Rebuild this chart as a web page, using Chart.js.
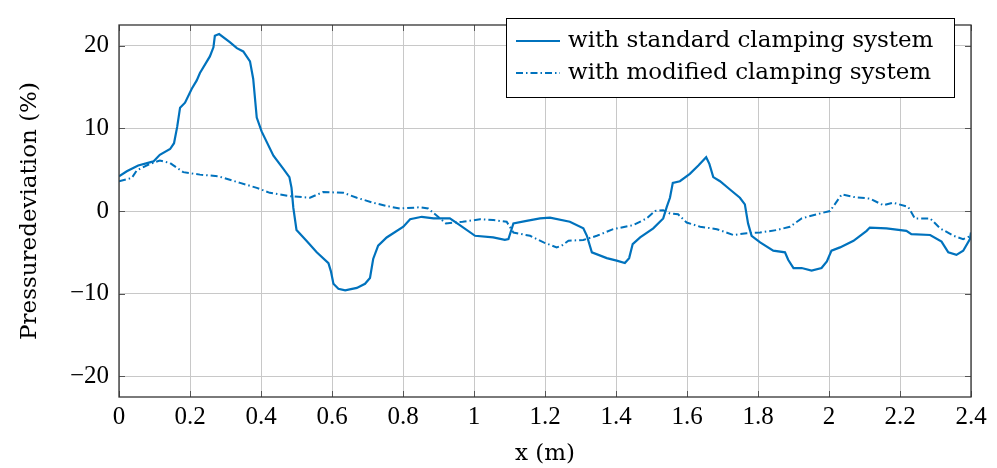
<!DOCTYPE html>
<html><head><meta charset="utf-8">
<script src="https://cdn.jsdelivr.net/npm/chart.js@4"></script>
<style>html,body{margin:0;padding:0;background:#fff}#wrap{width:997px;height:468px}</style>
</head><body><div id="wrap"><canvas id="c" width="997" height="468"></canvas></div>
<script>
const xStd=[0,0.022,0.054,0.097,0.115,0.144,0.155,0.164,0.172,0.186,0.205,0.219,0.228,0.256,0.266,0.270,0.282,0.313,0.332,0.350,0.369,0.378,0.388,0.402,0.435,0.463,0.480,0.486,0.491,0.500,0.528,0.557,0.590,0.597,0.604,0.618,0.637,0.670,0.693,0.707,0.716,0.730,0.754,0.801,0.820,0.853,0.886,0.932,0.960,1.003,1.054,1.087,1.097,1.111,1.148,1.186,1.214,1.270,1.308,1.318,1.332,1.374,1.402,1.425,1.437,1.447,1.468,1.505,1.533,1.543,1.552,1.560,1.580,1.608,1.632,1.654,1.663,1.674,1.693,1.721,1.749,1.763,1.772,1.782,1.806,1.843,1.876,1.885,1.900,1.923,1.951,1.979,1.994,2.007,2.031,2.069,2.106,2.115,2.162,2.218,2.232,2.285,2.317,2.336,2.359,2.378,2.397,2.4];
const yStd=[4.2,4.8,5.5,6.0,6.8,7.5,8.2,10.2,12.5,13.1,14.8,15.8,16.7,18.7,19.8,21.2,21.4,20.4,19.7,19.3,18.1,16.0,11.3,9.6,6.7,5.1,4.1,2.8,0.4,-2.3,-3.6,-5.0,-6.3,-7.3,-8.8,-9.4,-9.6,-9.3,-8.8,-8.1,-5.8,-4.2,-3.2,-1.9,-1.0,-0.7,-0.9,-0.9,-1.7,-3.0,-3.2,-3.5,-3.4,-1.5,-1.2,-0.9,-0.8,-1.3,-2.1,-3.0,-5.0,-5.7,-6.0,-6.3,-5.7,-4.0,-3.2,-2.1,-0.9,0.5,1.6,3.4,3.6,4.5,5.5,6.5,5.7,4.1,3.6,2.6,1.6,0.8,-1.5,-3.0,-3.8,-4.8,-5.0,-5.9,-6.9,-6.9,-7.2,-6.9,-6.1,-4.8,-4.4,-3.6,-2.4,-2.0,-2.1,-2.4,-2.8,-2.9,-3.7,-5.0,-5.3,-4.8,-3.4,-2.6];
const xMod=[0,0.036,0.050,0.087,0.115,0.144,0.181,0.228,0.280,0.341,0.388,0.425,0.482,0.538,0.575,0.632,0.670,0.716,0.754,0.792,0.848,0.871,0.921,0.968,1.017,1.054,1.092,1.111,1.158,1.196,1.233,1.247,1.266,1.308,1.346,1.392,1.449,1.486,1.510,1.533,1.552,1.575,1.599,1.637,1.684,1.730,1.768,1.806,1.853,1.890,1.923,1.965,2.003,2.026,2.036,2.069,2.115,2.153,2.181,2.223,2.242,2.285,2.313,2.351,2.378,2.4];
const yMod=[3.6,4.0,4.9,5.7,6.1,5.8,4.7,4.4,4.2,3.4,2.8,2.2,1.8,1.6,2.3,2.2,1.6,1.0,0.6,0.3,0.45,0.3,-1.5,-1.3,-1.0,-1.1,-1.3,-2.6,-3.0,-3.8,-4.4,-4.2,-3.6,-3.5,-3.0,-2.2,-1.7,-0.9,0.0,0.1,-0.3,-0.4,-1.4,-1.9,-2.2,-2.9,-2.7,-2.6,-2.3,-1.9,-0.9,-0.4,0.0,1.4,2.0,1.7,1.5,0.7,1.0,0.5,-0.9,-0.9,-2.1,-3.0,-3.4,-3.0];
const xTicks=[0,0.2,0.4,0.6,0.8,1,1.2,1.4,1.6,1.8,2,2.2,2.4];
const xTickLabels=['0','0.2','0.4','0.6','0.8','1','1.2','1.4','1.6','1.8','2','2.2','2.4'];
const yTicks=[-20,-10,0,10,20];
const yTickLabels=['\u221220','\u221210','0','10','20'];
const seriesNames=['with standard clamping system','with modified clamping system'];

const FONT='"Liberation Serif", serif';
const WFONT='"DejaVu Serif", "Liberation Serif", serif';
const BLUE='#0072bd';
const DASH=[7,3,1.5,3];

const frame={id:'frame',afterDraw(chart){
  const {ctx,chartArea:a}=chart;
  ctx.save();
  ctx.strokeStyle='#555';ctx.lineWidth=1;
  const L=6;
  ctx.beginPath();
  chart.scales.x.ticks.forEach(t=>{const px=Math.round(chart.scales.x.getPixelForValue(t.value))+0.5;
    ctx.moveTo(px,a.bottom);ctx.lineTo(px,a.bottom-L);ctx.moveTo(px,a.top);ctx.lineTo(px,a.top+L);});
  chart.scales.y.ticks.forEach(t=>{const py=Math.round(chart.scales.y.getPixelForValue(t.value))+0.5;
    ctx.moveTo(a.left,py);ctx.lineTo(a.left+L,py);ctx.moveTo(a.right,py);ctx.lineTo(a.right-L,py);});
  ctx.stroke();
  ctx.strokeStyle='#333';ctx.lineWidth=1.3;
  ctx.strokeRect(a.left,a.top,a.right-a.left,a.bottom-a.top);
  // legend
  const bx=506,by=18,bw=448,bh=79;
  ctx.fillStyle='#fff';ctx.fillRect(bx,by,bw,bh);
  ctx.strokeStyle='#000';ctx.lineWidth=1;ctx.strokeRect(bx+0.5,by+0.5,bw,bh);
  const rows=[by+23,by+55];
  chart.data.datasets.forEach((ds,i)=>{
    ctx.strokeStyle=ds.borderColor;ctx.lineWidth=ds.borderWidth;
    ctx.setLineDash(ds.borderDash||[]);
    ctx.beginPath();ctx.moveTo(bx+10,rows[i]);ctx.lineTo(bx+54,rows[i]);ctx.stroke();
    ctx.setLineDash([]);
    ctx.fillStyle='#000';ctx.font='23px '+WFONT;ctx.textBaseline='middle';ctx.textAlign='left';
    ctx.fillText(ds.label,bx+62,rows[i]);
  });
  ctx.restore();
}};

new Chart(document.getElementById('c'),{
  type:'line',
  data:{datasets:[
    {label:seriesNames[0],data:xStd.map((x,i)=>({x,y:yStd[i]})),borderColor:BLUE,borderWidth:2.2,pointRadius:0,tension:0,fill:false},
    {label:seriesNames[1],data:xMod.map((x,i)=>({x,y:yMod[i]})),borderColor:BLUE,borderWidth:2,borderDash:DASH,pointRadius:0,tension:0,fill:false}
  ]},
  options:{
    responsive:false,animation:false,
    layout:{padding:{top:10,right:26,left:0,bottom:0}},
    plugins:{legend:{display:false},tooltip:{enabled:false}},
    scales:{
      x:{type:'linear',min:0,max:2.4,
        afterBuildTicks:s=>{s.ticks=xTicks.map(v=>({value:v}));},
        afterFit:s=>{s.height=71;},
        ticks:{autoSkip:false,maxRotation:0,padding:5,color:'#000',font:{family:FONT,size:25},
          callback:(v,i)=>xTickLabels[i]},
        grid:{color:'#c8c8c8',lineWidth:1,drawTicks:false},
        border:{display:false},
        title:{display:true,text:'x (m)',color:'#000',font:{family:WFONT,size:23},padding:{top:0,bottom:0}}
      },
      y:{type:'linear',min:-22.5,max:22.5,
        afterBuildTicks:s=>{s.ticks=yTicks.map(v=>({value:v}));},
        afterFit:s=>{s.width=119;},
        ticks:{autoSkip:false,padding:10,color:'#000',font:{family:FONT,size:25},
          callback:(v,i)=>yTickLabels[i]},
        grid:{color:'#c8c8c8',lineWidth:1,drawTicks:false},
        border:{display:false},
        title:{display:true,text:'Pressuredeviation (%)',color:'#000',font:{family:WFONT,size:23},padding:{top:16,bottom:0}}
      }
    }
  },
  plugins:[frame]
});
</script></body></html>
